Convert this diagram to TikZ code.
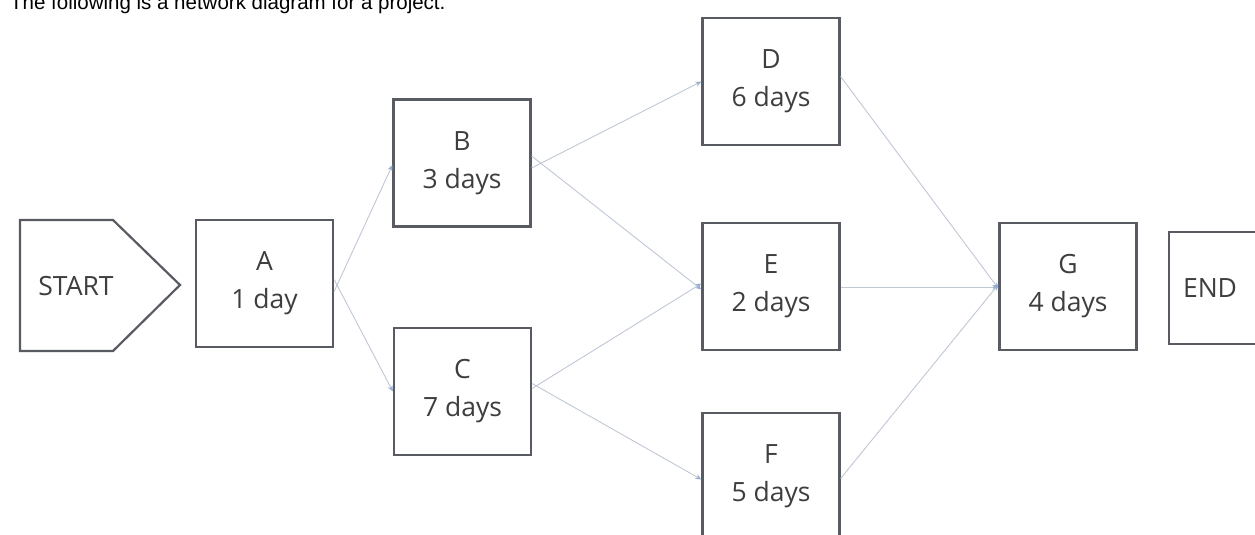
\documentclass[tikz,border=0pt]{standalone}
\usepackage{fontspec}
\setmainfont{Open Sans}
\newfontfamily\titlefont{Liberation Sans}
\usetikzlibrary{arrows.meta}
\definecolor{boxline}{RGB}{88,92,98}
\definecolor{boxtext}{RGB}{62,62,64}
\definecolor{arrline}{RGB}{192,200,214}
\definecolor{arrhead}{RGB}{150,175,210}
\tikzset{
  boxfont/.style={font=\fontsize{26.5}{38}\selectfont},
  task/.style={draw=boxline, line width=2.2pt, minimum width=137pt, minimum height=127pt,
    inner sep=0pt, align=center, text=boxtext, boxfont},
  flow/.style={draw=arrline, line width=0.9pt, -{Stealth[length=6pt,width=5pt,color=arrhead]}},
  title/.style={font=\titlefont\fontsize{20.5}{24}\selectfont, inner sep=0pt, anchor=base west}
}
\begin{document}
\begin{tikzpicture}[x=1pt,y=-1pt]
\useasboundingbox (0,0) rectangle (1255,535);
\clip (0,0) rectangle (1255,535);
\fill[white] (0,0) rectangle (1255,535);
\node[title] (title) at (10,10) {The following is a network diagram for a project.};
% start pentagon
\draw[boxline, line width=2.2pt, line join=miter] (20,220) -- (113,220) -- (180,285) -- (113,351) -- (20,351) -- cycle;
\node[text=boxtext, boxfont, inner sep=0pt] (start) at (76,286) {START};
\node[task] (A) at (264.5,283.5) {A\\1 day};
\node[task] (B) at (462,163) {B\\3 days};
\node[task] (C) at (462.5,391.5) {C\\7 days};
\node[task] (D) at (771,81.5) {D\\6 days};
\node[task] (E) at (771,286.5) {E\\2 days};
\node[task] (F) at (771,476.5) {F\\5 days};
\node[task] (G) at (1068,286.5) {G\\4 days};
\node[task, minimum width=93pt, minimum height=112pt, text width=65pt, align=left] (END) at (1215.5,288) {END};
\draw[flow] ([yshift=-8pt]A.east) -- ([yshift=-2pt]B.west);
\draw[flow] ([yshift=4pt]A.east) -- (C.west);
\draw[flow] ([yshift=-5pt]B.east) -- (D.west);
\draw[flow] ([yshift=7pt]B.east) -- ([yshift=-3pt]E.west);
\draw[flow] ([yshift=3pt]C.east) -- ([yshift=3pt]E.west);
\draw[flow] ([yshift=8pt]C.east) -- ([yshift=-3pt]F.west);
\draw[flow] ([yshift=5pt]D.east) -- ([yshift=-2pt]G.west);
\draw[flow] ([yshift=-1pt]E.east) -- ([yshift=-1pt]G.west);
\draw[flow] ([yshift=-2pt]F.east) -- ([yshift=2pt]G.west);
\end{tikzpicture}
\end{document}
